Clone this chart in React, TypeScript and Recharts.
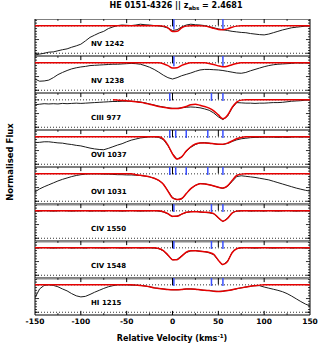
import React from 'react';
import { LineChart, Line, XAxis, YAxis, ReferenceLine, ReferenceArea } from 'recharts';

const velocity = [
  -150, -145, -140, -135, -130, -125, -120, -115, -110, -105, -100, -95, -90, -85, -80, -75, -70, -65, -60, -55,
  -50, -45, -40, -35, -30, -25, -20, -15, -10, -5, 0, 5, 10, 15, 20, 25, 30, 35, 40, 45,
  50, 55, 60, 65, 70, 75, 80, 85, 90, 95, 100, 105, 110, 115, 120, 125, 130, 135, 140, 145, 150,
];

// NV 1242
const nv1242Flux = [
  -0.06, -0.03, 0.0, 0.04, 0.05, 0.09, 0.13, 0.16, 0.22, 0.27, 0.33, 0.45, 0.58, 0.66, 0.74, 0.8, 0.9, 0.96, 1.01, 1.03,
  1.02, 1.01, 1.03, 1.06, 1.04, 1.03, 1.01, 1.0, 0.97, 0.92, 0.83, 0.86, 0.96, 1.03, 1.06, 1.04, 1.03, 1.01, 0.97, 0.93,
  0.89, 0.86, 0.83, 0.8, 0.78, 0.76, 0.75, 0.72, 0.7, 0.68, 0.67, 0.7, 0.75, 0.8, 0.85, 0.89, 0.93, 0.95, 0.97, 0.99, 1.0,
];
const nv1242Model = [
  1, 1, 1, 1, 1, 1, 1, 1, 1, 1, 1, 1, 1, 1, 1, 1, 1, 1, 1, 1,
  1, 1, 1, 1, 1, 1, 1, 1, 0.99, 0.93, 0.79, 0.8, 0.93, 0.99, 1, 1, 1, 0.99, 0.96, 0.91,
  0.87, 0.86, 0.89, 0.95, 0.99, 1, 1, 1, 1, 1, 1, 1, 1, 1, 1, 1, 1, 1, 1, 1, 1,
];

// NV 1238
const nv1238Flux = [
  0.41, 0.33, 0.34, 0.37, 0.46, 0.57, 0.65, 0.72, 0.78, 0.82, 0.85, 0.87, 0.9, 0.91, 0.92, 0.93, 0.94, 0.95, 0.95, 0.96,
  0.97, 0.98, 0.97, 0.95, 0.9, 0.84, 0.76, 0.66, 0.55, 0.46, 0.41, 0.46, 0.53, 0.58, 0.63, 0.69, 0.74, 0.76, 0.76, 0.75,
  0.74, 0.72, 0.69, 0.66, 0.63, 0.62, 0.65, 0.71, 0.76, 0.81, 0.86, 0.9, 0.93, 0.95, 0.96, 0.97, 0.98, 1.0, 0.99, 1.0, 0.99,
];
const nv1238Model = [
  1, 1, 1, 1, 1, 1, 1, 1, 1, 1, 1, 1, 1, 1, 1, 1, 1, 1, 1, 1,
  1, 1, 1, 1, 1, 1, 1, 1, 0.97, 0.9, 0.81, 0.82, 0.91, 0.97, 1, 1, 1, 1, 0.98, 0.94,
  0.89, 0.86, 0.88, 0.93, 0.98, 1, 1, 1, 1, 1, 1, 1, 1, 1, 1, 1, 1, 1, 1, 1, 1,
];

// CIII 977
const c3Flux = [
  0.82, 0.84, 0.86, 0.85, 0.86, 0.85, 0.87, 0.86, 0.87, 0.88, 0.87, 0.88, 0.89, 0.9, 0.91, 0.92, 0.93, 0.94, 0.94, 0.95,
  0.95, 0.95, 0.94, 0.92, 0.89, 0.85, 0.81, 0.77, 0.74, 0.71, 0.69, 0.69, 0.71, 0.73, 0.74, 0.73, 0.71, 0.67, 0.62, 0.52,
  0.38, 0.28, 0.4, 0.7, 0.9, 0.89, 0.88, 0.88, 0.87, 0.88, 0.88, 0.89, 0.9, 0.9, 0.91, 0.93, 0.95, 0.96, 0.97, 0.99, 1.0,
];
const c3Model = [
  null, null, null, null, null, null, null, null, null, null, null, null, null, null, null, null, null, 1.0, 0.99, 0.98,
  0.97, 0.95, 0.93, 0.91, 0.88, 0.84, 0.8, 0.76, 0.73, 0.7, 0.68, 0.68, 0.71, 0.76, 0.82, 0.84, 0.8, 0.76, 0.7, 0.6,
  0.45, 0.31, 0.44, 0.72, 0.92, 0.99, 1, 1, 1, 1, 1, 1, 1, 1, 1, 1, 1, 1, 1, 1, 1,
];

// OVI 1037
const o6aFlux = [
  0.79, 0.8, 0.82, 0.82, 0.8, 0.78, 0.77, 0.74, 0.72, 0.69, 0.67, 0.63, 0.59, 0.56, 0.54, 0.53, 0.58, 0.64, 0.7, 0.75,
  0.82, 0.88, 0.92, 0.96, 0.98, 1.0, 1.0, 0.98, 0.9, 0.68, 0.38, 0.19, 0.27, 0.47, 0.62, 0.72, 0.78, 0.79, 0.77, 0.75,
  0.73, 0.72, 0.76, 0.83, 0.89, 0.93, 0.95, 0.97, 0.98, 0.98, 0.99, 0.99, 0.99, 0.98, 0.99, 0.98, 0.99, 1.0, 0.99, 1.0, 1.0,
];
const o6aModel = [
  1, 1, 1, 1, 1, 1, 1, 1, 1, 1, 1, 1, 1, 1, 1, 1, 1, 1, 1, 1,
  1, 1, 1, 1, 1, 1, 1, 1, 0.92, 0.7, 0.38, 0.19, 0.27, 0.48, 0.64, 0.74, 0.78, 0.78, 0.77, 0.75,
  0.73, 0.73, 0.77, 0.85, 0.93, 0.98, 1, 1, 1, 1, 1, 1, 1, 1, 1, 1, 1, 1, 1, 1, 1,
];

// OVI 1031
const o6bFlux = [
  0.34, 0.45, 0.53, 0.6, 0.67, 0.74, 0.8, 0.85, 0.9, 0.94, 0.97, 0.99, 1.0, 1.0, 1.0, 0.99, 0.99, 0.98, 0.97, 0.97,
  0.96, 0.96, 0.95, 0.94, 0.92, 0.89, 0.84, 0.76, 0.63, 0.38, 0.13, 0.06, 0.08, 0.27, 0.46, 0.58, 0.65, 0.64, 0.6, 0.56,
  0.51, 0.47, 0.54, 0.72, 0.9, 0.93, 0.91, 0.89, 0.87, 0.84, 0.81, 0.78, 0.73, 0.68, 0.63, 0.58, 0.53, 0.48, 0.44, 0.4, 0.37,
];
const o6bModel = [
  1, 1, 1, 1, 1, 1, 1, 1, 1, 1, 1, 1, 1, 1, 1, 1, 1, 1, 1, 1,
  1, 1, 0.97, 0.95, 0.92, 0.89, 0.84, 0.76, 0.62, 0.37, 0.12, 0.06, 0.1, 0.28, 0.46, 0.58, 0.64, 0.63, 0.6, 0.56,
  0.51, 0.48, 0.56, 0.76, 0.94, 0.99, 1, 1, 1, 1, 1, 1, 1, 1, 1, 1, 1, 1, 1, 1, 1,
];

// CIV 1550
const c4aFlux = [
  1.0, 0.99, 1.01, 1.0, 0.99, 1.0, 1.01, 1.0, 0.99, 1.0, 1.0, 1.01, 0.99, 1.0, 1.0, 0.99, 1.01, 1.0, 1.0, 0.99,
  1.0, 1.01, 1.0, 0.99, 1.0, 1.0, 1.01, 0.99, 0.96, 0.89, 0.79, 0.81, 0.88, 0.94, 0.97, 0.98, 0.96, 0.94, 0.93, 0.89,
  0.74, 0.61, 0.73, 0.93, 0.99, 1.0, 1.01, 0.99, 1.0, 1.0, 0.99, 1.01, 1.0, 0.99, 1.0, 1.01, 1.0, 0.99, 1.0, 1.0, 1.01,
];
const c4aModel = [
  1, 1, 1, 1, 1, 1, 1, 1, 1, 1, 1, 1, 1, 1, 1, 1, 1, 1, 1, 1,
  1, 1, 1, 1, 1, 1, 1, 1, 0.97, 0.9, 0.8, 0.8, 0.88, 0.95, 0.97, 0.97, 0.96, 0.95, 0.94, 0.9,
  0.75, 0.62, 0.72, 0.92, 0.99, 1, 1, 1, 1, 1, 1, 1, 1, 1, 1, 1, 1, 1, 1, 1, 1,
];

// CIV 1548
const c4bFlux = [
  0.99, 1.0, 1.01, 1.0, 0.99, 1.0, 1.0, 1.01, 0.99, 1.0, 1.0, 0.99, 1.01, 1.0, 1.0, 0.99, 1.0, 1.01, 1.0, 0.99,
  1.0, 1.0, 1.01, 0.99, 1.0, 1.0, 0.99, 0.97, 0.89, 0.73, 0.56, 0.58, 0.71, 0.83, 0.89, 0.9, 0.88, 0.86, 0.82, 0.75,
  0.54, 0.38, 0.51, 0.83, 0.97, 1.0, 1.01, 1.0, 0.99, 1.0, 1.01, 1.0, 0.99, 1.0, 1.0, 1.01, 0.99, 1.0, 1.0, 0.99, 1.0,
];
const c4bModel = [
  1, 1, 1, 1, 1, 1, 1, 1, 1, 1, 1, 1, 1, 1, 1, 1, 1, 1, 1, 1,
  1, 1, 1, 1, 1, 1, 1, 0.98, 0.9, 0.74, 0.57, 0.57, 0.7, 0.84, 0.89, 0.89, 0.88, 0.86, 0.83, 0.76,
  0.55, 0.39, 0.5, 0.82, 0.97, 1, 1, 1, 1, 1, 1, 1, 1, 1, 1, 1, 1, 1, 1, 1, 1,
];

// HI 1215
const h1Flux = [
  0.53, 0.85, 0.98, 1.0, 0.98, 0.93, 0.85, 0.78, 0.68, 0.6, 0.56, 0.58, 0.65, 0.73, 0.8, 0.87, 0.93, 0.97, 1.0, 1.0,
  1.0, 0.99, 0.99, 0.98, 0.96, 0.93, 0.89, 0.87, 0.85, 0.83, 0.82, 0.82, 0.83, 0.85, 0.85, 0.84, 0.82, 0.8, 0.79, 0.77,
  0.76, 0.77, 0.79, 0.82, 0.86, 0.89, 0.92, 0.95, 0.97, 0.97, 0.92, 0.88, 0.84, 0.8, 0.75, 0.68, 0.59, 0.49, 0.39, 0.3, 0.23,
];
const h1Model = [
  1, 1, 1, 1, 1, 1, 1, 1, 1, 1, 1, 1, 1, 1, 1, 1, 1, 1, 1, 1,
  1, 1, 0.99, 0.98, 0.96, 0.93, 0.89, 0.87, 0.85, 0.83, 0.82, 0.82, 0.83, 0.85, 0.85, 0.84, 0.82, 0.8, 0.79, 0.77,
  0.76, 0.77, 0.79, 0.82, 0.86, 0.89, 0.92, 0.95, 0.97, 0.99, 1, 1, 1, 1, 1, 1, 1, 1, 1, 1, 1,
];

const panelNames = ['NV 1242', 'NV 1238', 'CIII 977', 'OVI 1037', 'OVI 1031', 'CIV 1550', 'CIV 1548', 'HI 1215'];
const fluxSeries = [nv1242Flux, nv1238Flux, c3Flux, o6aFlux, o6bFlux, c4aFlux, c4bFlux, h1Flux];
const modelSeries = [nv1242Model, nv1238Model, c3Model, o6aModel, o6bModel, c4aModel, c4bModel, h1Model];
const componentsNV = [1.5, 55];
const componentsC3 = [-3, 42.5, 55];
const componentsO6 = [-3, 3.5, 15, 38.5, 55];
const componentsC4 = [1.5, 42.5, 55];
const panelComponents = [componentsNV, componentsNV, componentsC3, componentsO6, componentsO6, componentsC4, componentsC4, componentsC4];

const xTicks = [-150, -100, -50, 0, 50, 100, 150];
const majorTicks = [-100, -50, 0, 50, 100];
const minorTicks = [-125, -75, -25, 25, 75, 125];
const yMinor = [0, 0.1, 0.2, 0.3, 0.4, 0.6, 0.7, 0.8, 0.9, 1.1, 1.2];
const yMajor = [0, 0.5, 1.0];

const Y_MIN = -0.1;
const Y_MAX = 1.25;
const PANEL_H = 37;
const TOP0 = 19;
const FONT = '"DejaVu Sans", sans-serif';

function Panel({ idx }: { idx: number }) {
  const last = idx === panelNames.length - 1;
  const data = velocity.map((v, i) => ({ v, flux: fluxSeries[idx][i], model: modelSeries[idx][i] }));
  const refs: React.ReactNode[] = [];
  refs.push(
    <ReferenceArea key="frame" x1={-150} x2={150} y1={Y_MIN} y2={Y_MAX} fill="none" stroke="#000" strokeWidth={1} ifOverflow="visible" />
  );
  if (idx >= 5) {
    refs.push(<ReferenceLine key="gray" y={Y_MAX} stroke="#8a8a8a" strokeWidth={3} ifOverflow="visible" />);
  }
  refs.push(<ReferenceLine key="d1" y={1} stroke="#000" strokeWidth={0.8} strokeDasharray="1 2" ifOverflow="visible" />);
  refs.push(<ReferenceLine key="d0" y={0} stroke="#000" strokeWidth={0.8} strokeDasharray="1 2" ifOverflow="visible" />);
  majorTicks.forEach((t) => {
    const bottom = t === 0 ? 0.98 : t === 50 ? 1.02 : 1.1;
    refs.push(
      <ReferenceLine key={'tm' + t} segment={[{ x: t, y: Y_MAX }, { x: t, y: bottom }]} stroke="#000" strokeWidth={1} ifOverflow="visible" />
    );
    if (last) {
      refs.push(
        <ReferenceLine key={'bm' + t} segment={[{ x: t, y: Y_MIN }, { x: t, y: 0.05 }]} stroke="#000" strokeWidth={1} ifOverflow="visible" />
      );
    }
  });
  minorTicks.forEach((t) => {
    refs.push(
      <ReferenceLine key={'tn' + t} segment={[{ x: t, y: Y_MAX }, { x: t, y: 1.18 }]} stroke="#000" strokeWidth={0.8} ifOverflow="visible" />
    );
    if (last) {
      refs.push(
        <ReferenceLine key={'bn' + t} segment={[{ x: t, y: Y_MIN }, { x: t, y: -0.03 }]} stroke="#000" strokeWidth={0.8} ifOverflow="visible" />
      );
    }
  });
  yMinor.forEach((y) => {
    refs.push(<ReferenceLine key={'yl' + y} segment={[{ x: -150, y }, { x: -147.8, y }]} stroke="#000" strokeWidth={0.8} ifOverflow="visible" />);
    refs.push(<ReferenceLine key={'yr' + y} segment={[{ x: 147.8, y }, { x: 150, y }]} stroke="#000" strokeWidth={0.8} ifOverflow="visible" />);
  });
  yMajor.forEach((y) => {
    refs.push(<ReferenceLine key={'yL' + y} segment={[{ x: -150, y }, { x: -145.6, y }]} stroke="#000" strokeWidth={0.8} ifOverflow="visible" />);
    refs.push(<ReferenceLine key={'yR' + y} segment={[{ x: 145.6, y }, { x: 150, y }]} stroke="#000" strokeWidth={0.8} ifOverflow="visible" />);
  });
  const blueBottom = idx < 2 ? 0.88 : 0.96;
  panelComponents[idx].forEach((c) => {
    refs.push(
      <ReferenceLine key={'b' + c} segment={[{ x: c, y: Y_MAX }, { x: c, y: blueBottom }]} stroke="#3a50ff" strokeWidth={1.5} ifOverflow="visible" />
    );
  });

  return (
    <LineChart
      width={327}
      height={last ? PANEL_H + 20 : PANEL_H}
      margin={{ top: 0, right: 17, bottom: 0, left: 35 }}
      data={data}
    >
      <XAxis
        type="number"
        dataKey="v"
        domain={[-150, 150]}
        allowDataOverflow
        ticks={xTicks}
        interval={0}
        hide={!last}
        height={20}
        axisLine={false}
        tickLine={false}
        tickSize={0}
        tickMargin={4}
        tick={{ fontSize: 7.5, fill: '#000', fontFamily: FONT, fontWeight: 'bold' }}
      />
      <YAxis type="number" domain={[Y_MIN, Y_MAX]} allowDataOverflow hide />
      {refs}
      <Line type="linear" dataKey="flux" stroke="#1c1c1c" strokeWidth={1} dot={false} isAnimationActive={false} />
      <Line type="monotone" dataKey="model" stroke="#e60000" strokeWidth={1.5} dot={false} isAnimationActive={false} connectNulls={false} />
    </LineChart>
  );
}

export default function App() {
  return (
    <div style={{ position: 'absolute', left: 0, top: 0, width: 327, height: 354, background: '#fff' }}>
      {panelNames.map((name, i) => (
        <div key={name} style={{ position: 'absolute', left: 0, top: TOP0 + PANEL_H * i }}>
          <Panel idx={i} />
        </div>
      ))}
      <svg width={327} height={354} style={{ position: 'absolute', left: 0, top: 0, pointerEvents: 'none' }}>
        <text x={176} y={8} textAnchor="middle" fontFamily={FONT} fontWeight="bold" fontSize={8} fill="#000">
          HE 0151-4326 || z<tspan dy={2} fontSize={5.5}>abs</tspan>
          <tspan dy={-2}> = 2.4681</tspan>
        </text>
        {panelNames.map((name, i) => (
          <text key={name} x={91} y={TOP0 + PANEL_H * i + 27} fontFamily={FONT} fontWeight="bold" fontSize={7} fill="#000">
            {name}
          </text>
        ))}
        <text
          x={13}
          y={162}
          transform="rotate(-90 13 162)"
          textAnchor="middle"
          fontFamily={FONT}
          fontWeight="bold"
          fontSize={8.5}
          fill="#000"
        >
          Normalised Flux
        </text>
        <text x={172} y={341} textAnchor="middle" fontFamily={FONT} fontWeight="bold" fontSize={8} fill="#000">
          Relative Velocity (kms<tspan dy={-3} fontSize={5.5}>-1</tspan>
          <tspan dy={3}>)</tspan>
        </text>
      </svg>
    </div>
  );
}
